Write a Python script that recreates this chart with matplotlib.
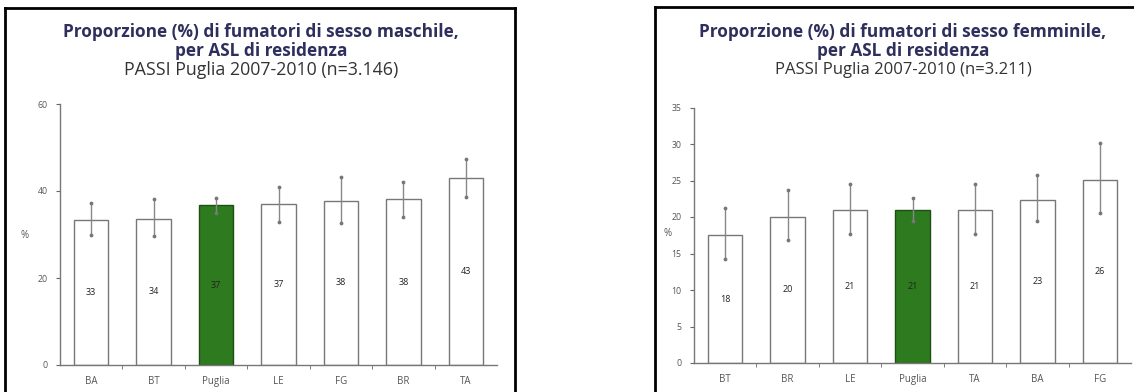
import numpy as np
import matplotlib.pyplot as plt
from matplotlib.lines import Line2D

# maschi
asl_m = ['BA', 'BT', 'Puglia', 'LE', 'FG', 'BR', 'TA']
val_m = [33.4, 33.6, 36.7, 36.9, 37.8, 38.1, 43.0]
lab_m = ['33', '34', '37', '37', '38', '38', '43']
lo_m = [29.9, 29.7, 35.0, 32.8, 32.7, 34.1, 38.6]
hi_m = [37.3, 38.1, 38.3, 41.0, 43.2, 42.1, 47.4]

# femmine
asl_f = ['BT', 'BR', 'LE', 'Puglia', 'TA', 'BA', 'FG']
val_f = [17.5, 20.0, 20.9, 20.9, 20.9, 22.3, 25.1]
lab_f = ['18', '20', '21', '21', '21', '23', '26']
lo_f = [14.2, 16.8, 17.7, 19.4, 17.7, 19.4, 20.5]
hi_f = [21.2, 23.7, 24.5, 22.6, 24.5, 25.7, 30.2]

W, H = 1134, 392
plt.rcParams['font.family'] = ['Open Sans', 'DejaVu Sans']

fig = plt.figure(figsize=(W / 100, H / 100), dpi=100)
fig.patch.set_facecolor('white')


def px(x, y):
    return x / W, 1 - y / H


def panel(x0, x1, top, cx, t1, t3, fs1, fs3):
    # cornice nera (sinistra, alto, destra)
    kw = dict(color='black', lw=2.0, transform=fig.transFigure)
    fig.add_artist(Line2D([px(x0, 0)[0]] * 2, [0, px(0, top)[1]], **kw))
    fig.add_artist(Line2D([px(x0, 0)[0], px(x1, 0)[0]], [px(0, top)[1]] * 2, **kw))
    if x1 < W:
        fig.add_artist(Line2D([px(x1, 0)[0]] * 2, [0, px(0, top)[1]], **kw))
    fig.text(*px(cx, 32), t1, ha='center', va='center', fontsize=fs1,
             fontweight='bold', color='#2e2f5c')
    fig.text(*px(cx, 51), 'per ASL di residenza', ha='center', va='center',
             fontsize=fs1, fontweight='bold', color='#2e2f5c')
    fig.text(*px(cx, 70), t3, ha='center', va='center', fontsize=fs3,
             color='#333333')


def draw(ax, names, vals, labs, lo, hi, ymax, step):
    x = np.arange(len(names))
    colors = ['#2d7a1f' if n == 'Puglia' else 'white' for n in names]
    edges = ['#1f4f14' if n == 'Puglia' else '#777777' for n in names]
    ax.bar(x, vals, width=0.55, color=colors, edgecolor=edges, linewidth=1.0, zorder=2)
    err = [np.array(vals) - np.array(lo), np.array(hi) - np.array(vals)]
    ax.errorbar(x, vals, yerr=err, fmt='none', ecolor='#888888', elinewidth=1.0,
                capsize=0, zorder=3)
    ax.scatter(np.r_[x, x], np.r_[lo, hi], s=3, color='#777777', zorder=3)
    for xi, v, t in zip(x, vals, labs):
        ax.text(xi, v / 2, t, ha='center', va='center', fontsize=6.5,
                color='#222222', zorder=4)
    ax.set_xlim(-0.5, 6.5)
    ax.set_ylim(0, ymax)
    ax.set_yticks(np.arange(0, ymax + 0.1, step))
    ax.set_xticks(x)
    ax.set_xticklabels(names)
    ax.set_xticks(x[:-1] + 0.5, minor=True)
    ax.tick_params(axis='x', which='major', length=0, labelsize=7, labelcolor='#555555', pad=8)
    ax.tick_params(axis='x', which='minor', length=3, color='#666666', direction='out')
    ax.tick_params(axis='y', length=3, labelsize=6.3, labelcolor='#555555', color='#666666', pad=6)
    for s in ['top', 'right']:
        ax.spines[s].set_visible(False)
    for s in ['left', 'bottom']:
        ax.spines[s].set_color('#777777')
        ax.spines[s].set_linewidth(1.0)
    ax.set_facecolor('none')


panel(5, 515, 8, 261, 'Proporzione (%) di fumatori di sesso maschile,',
      'PASSI Puglia 2007-2010 (n=3.146)', 12.4, 12.8)
panel(655, W, 7, 903, 'Proporzione (%) di fumatori di sesso femminile,',
      'PASSI Puglia 2007-2010 (n=3.211)', 12.4, 12.0)

axm = fig.add_axes([60 / W, 1 - 365 / H, 437 / W, 261 / H])
draw(axm, asl_m, val_m, lab_m, lo_m, hi_m, 60, 20)
fig.text(*px(25, 235), '%', fontsize=7, color='#555555', ha='center', va='center')

axf = fig.add_axes([694 / W, 1 - 363 / H, 437 / W, 255.5 / H])
draw(axf, asl_f, val_f, lab_f, lo_f, hi_f, 35, 5)
fig.text(*px(668, 233), '%', fontsize=7, color='#555555', ha='center', va='center')

fig.savefig('out.png', dpi=100)
